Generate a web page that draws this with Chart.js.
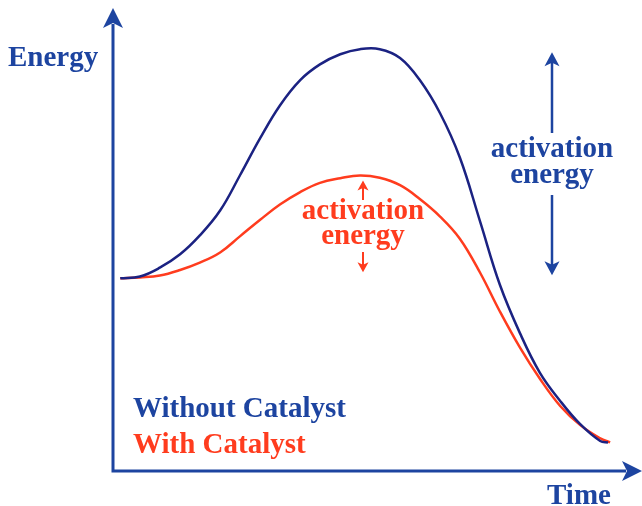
<!DOCTYPE html>
<html>
<head>
<meta charset="utf-8">
<script src="https://cdn.jsdelivr.net/npm/chart.js@4.4.0/dist/chart.umd.min.js"></script>
<style>
  html, body { margin: 0; padding: 0; background: #fff; }
  #wrap { width: 642px; height: 506px; position: relative; }
</style>
</head>
<body>
<div id="wrap"><canvas id="energyChart"></canvas></div>
<script>
// reaction progress (time) and energy, arbitrary units 0..100
const timeSteps = [1.4, 5.2, 9.0, 12.9, 16.7, 20.6, 24.4, 28.3, 32.1, 36.0, 39.8, 43.7, 47.5,
  51.3, 55.2, 59.0, 62.9, 66.7, 70.6, 74.4, 78.3, 82.1, 86.0, 89.8, 93.7];
const energyNoCat = [41.8, 42.2, 44.1, 47.0, 51.1, 56.5, 64.1, 72.2, 79.3, 84.8, 88.2, 90.4, 91.5,
  91.5, 89.6, 84.8, 77.6, 68.0, 54.1, 40.4, 29.8, 21.3, 15.2, 10.2, 6.5];
const energyCat = [41.8, 42.0, 42.4, 43.6, 45.2, 47.4, 50.9, 54.5, 57.8, 60.5, 62.5, 63.5, 64.1,
  63.6, 62.0, 59.0, 55.2, 50.4, 43.0, 34.6, 26.7, 20.0, 14.1, 10.0, 7.1];
const endTime = [95.2, 95.6];
const endEnergy = [6.2, 6.2];

const seriesLabels = ["Without Catalyst", "With Catalyst"];
const axisLabels = ["Energy", "Time"];
const annotationText = ["activation", "energy"];

const BLUE = "#1d44a0";
const NAVY = "#1b2282";
const RED = "#ff3c1e";
const FONT = "bold 29px 'Liberation Serif', serif";

function toPoints(xs, ys, xEnd, yEnd) {
  const pts = xs.map((x, i) => ({ x: x, y: ys[i] }));
  pts.push({ x: xEnd, y: yEnd });
  return pts;
}

function arrowHead(ctx, x, y, dir, len, half) {
  // dir: 'up' | 'down' | 'right'
  ctx.beginPath();
  if (dir === "up") {
    ctx.moveTo(x, y);
    ctx.lineTo(x - half, y + len);
    ctx.lineTo(x, y + len * 0.75);
    ctx.lineTo(x + half, y + len);
  } else if (dir === "down") {
    ctx.moveTo(x, y);
    ctx.lineTo(x - half, y - len);
    ctx.lineTo(x, y - len * 0.75);
    ctx.lineTo(x + half, y - len);
  } else {
    ctx.moveTo(x, y);
    ctx.lineTo(x - len, y - half);
    ctx.lineTo(x - len * 0.75, y);
    ctx.lineTo(x - len, y + half);
  }
  ctx.closePath();
  ctx.fill();
}

function doubleArrow(ctx, x, yTop, yBottom, gapTop, gapBottom, color, len, half, width) {
  ctx.strokeStyle = color;
  ctx.fillStyle = color;
  ctx.lineWidth = width;
  ctx.beginPath();
  ctx.moveTo(x, yTop + len * 0.7);
  ctx.lineTo(x, gapTop);
  ctx.moveTo(x, gapBottom);
  ctx.lineTo(x, yBottom - len * 0.7);
  ctx.stroke();
  arrowHead(ctx, x, yTop, "up", len, half);
  arrowHead(ctx, x, yBottom, "down", len, half);
}

const decorations = {
  id: "decorations",
  afterDraw(chart) {
    const ctx = chart.ctx;
    const area = chart.chartArea;
    const xs = chart.scales.x;
    const ys = chart.scales.y;
    ctx.save();

    // axes with arrow tips
    ctx.strokeStyle = BLUE;
    ctx.fillStyle = BLUE;
    ctx.lineWidth = 3;
    ctx.beginPath();
    ctx.moveTo(area.left, 24);
    ctx.lineTo(area.left, area.bottom);
    ctx.lineTo(626, area.bottom);
    ctx.stroke();
    arrowHead(ctx, area.left, 8, "up", 20, 10);
    arrowHead(ctx, 642, area.bottom, "right", 20, 10);

    ctx.font = FONT;
    ctx.textBaseline = "alphabetic";
    ctx.textAlign = "left";
    ctx.fillText(axisLabels[0], 8, 66);
    ctx.fillText(axisLabels[1], 547, 504);

    // legend text
    ctx.fillStyle = BLUE;
    ctx.fillText(seriesLabels[0], 133, 417);
    ctx.fillStyle = RED;
    ctx.fillText(seriesLabels[1], 133, 453);

    // activation energy, no catalyst: from start level to peak
    const start = energyNoCat[0];
    const peakBlue = Math.max(...energyNoCat);
    const bx = 552;
    doubleArrow(ctx, bx, ys.getPixelForValue(peakBlue) + 3, ys.getPixelForValue(start) - 3, 133, 195, BLUE, 14, 7.5, 2.5);
    ctx.fillStyle = BLUE;
    ctx.textAlign = "center";
    ctx.fillText(annotationText[0], bx, 157);
    ctx.fillText(annotationText[1], bx, 183);

    // activation energy, with catalyst
    const peakRed = Math.max(...energyCat);
    const rx = xs.getPixelForValue(timeSteps[energyCat.indexOf(peakRed)]) + 3;
    doubleArrow(ctx, rx, ys.getPixelForValue(peakRed) + 5, ys.getPixelForValue(start) - 6, 200, 252, RED, 10, 5.5, 2);
    ctx.fillStyle = RED;
    ctx.fillText(annotationText[0], rx, 219);
    ctx.fillText(annotationText[1], rx, 244);

    ctx.restore();
  }
};

new Chart(document.getElementById("energyChart"), {
  type: "line",
  data: {
    datasets: [
      {
        label: seriesLabels[0],
        data: toPoints(timeSteps, energyNoCat, endTime[0], endEnergy[0]),
        borderColor: NAVY,
        borderWidth: 2.5,
        pointRadius: 0,
        tension: 0.4,
        fill: false
      },
      {
        label: seriesLabels[1],
        data: toPoints(timeSteps, energyCat, endTime[1], endEnergy[1]),
        borderColor: RED,
        borderWidth: 2.5,
        pointRadius: 0,
        tension: 0.4,
        fill: false
      }
    ]
  },
  options: {
    responsive: true,
    maintainAspectRatio: false,
    animation: false,
    layout: { padding: { left: 113, right: 9, top: 10, bottom: 35 } },
    plugins: {
      legend: { display: false },
      tooltip: { enabled: false }
    },
    scales: {
      x: { type: "linear", min: 0, max: 100, display: false },
      y: { type: "linear", min: 0, max: 100, display: false }
    }
  },
  plugins: [decorations]
});
</script>
</body>
</html>
